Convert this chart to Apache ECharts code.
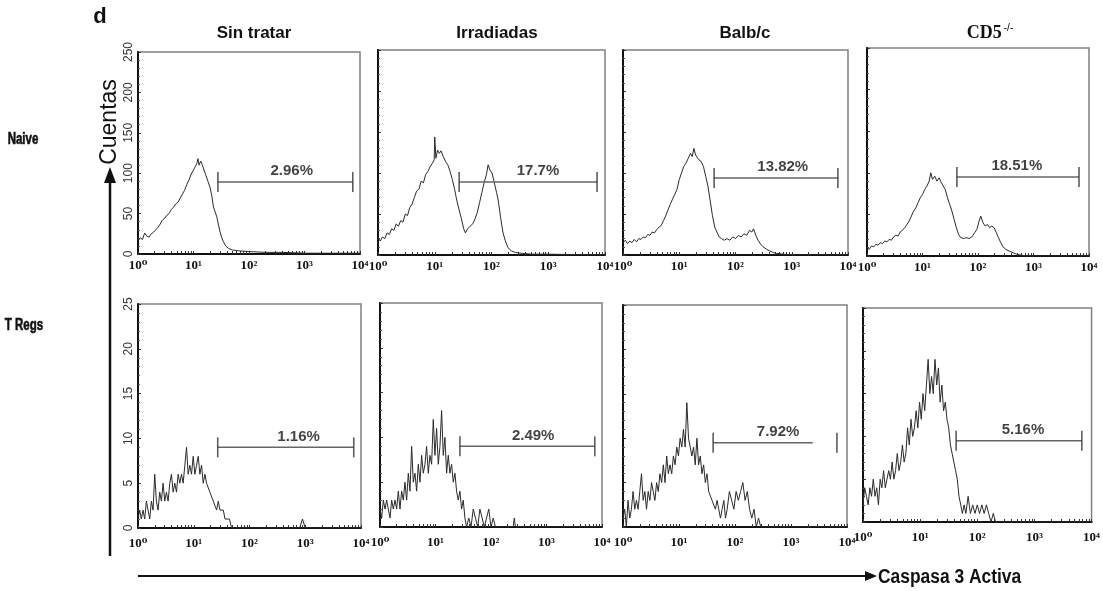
<!DOCTYPE html>
<html><head><meta charset="utf-8">
<script src="https://cdn.jsdelivr.net/npm/echarts@6/dist/echarts.min.js"></script>
<style>html,body{margin:0;padding:0;background:#fff}#c{width:1103px;height:591px}</style>
</head><body><div id="c"></div>
<script>
// ---------- labels ----------
const columnTitles = ['Sin tratar', 'Irradiadas', 'Balb/c', 'CD5'];
const rowTitles = ['Naive', 'T Regs'];
const xTickLabels = ['10⁰', '10¹', '10²', '10³', '10⁴'];
const xAxisTitle = 'Caspasa 3 Activa';
const yAxisTitle = 'Cuentas';

// ---------- histogram data: [log10 fluorescence, counts] ----------
const naiveSinTratar = [[0,16],[0.04,20],[0.08,18],[0.12,26],[0.16,22],[0.2,21],[0.24,25],[0.28,27],[0.32,30],[0.36,33],[0.4,37],[0.44,42],[0.48,44],[0.52,48],[0.56,50],[0.6,55],[0.64,58],[0.68,62],[0.72,64],[0.76,69],[0.8,74],[0.84,79],[0.88,86],[0.92,92],[0.96,99],[1.0,104],[1.03,108],[1.06,112],[1.08,118],[1.1,110],[1.13,115],[1.16,110],[1.19,104],[1.22,98],[1.26,90],[1.3,82],[1.33,72],[1.36,58],[1.39,52],[1.42,46],[1.45,36],[1.48,27],[1.51,20],[1.54,15],[1.58,10],[1.63,7],[1.7,5],[1.8,4],[2.0,3],[2.3,2],[2.6,2],[3.0,1],[3.5,1],[4,1]];
const naiveIrradiadas = [[0,21],[0.04,17],[0.08,22],[0.12,20],[0.16,27],[0.2,25],[0.24,32],[0.28,30],[0.32,38],[0.36,35],[0.4,42],[0.44,40],[0.48,50],[0.52,48],[0.56,58],[0.6,62],[0.64,70],[0.68,78],[0.72,80],[0.76,90],[0.8,88],[0.84,98],[0.88,102],[0.92,108],[0.96,112],[0.99,116],[1.0,144],[1.02,118],[1.05,128],[1.08,124],[1.11,127],[1.15,120],[1.19,114],[1.23,110],[1.27,102],[1.31,92],[1.35,80],[1.39,66],[1.43,55],[1.47,44],[1.51,32],[1.54,27],[1.58,32],[1.62,35],[1.67,38],[1.71,44],[1.75,52],[1.79,64],[1.83,76],[1.87,88],[1.91,98],[1.94,110],[1.97,104],[2.01,100],[2.05,88],[2.09,76],[2.12,66],[2.16,46],[2.2,28],[2.24,18],[2.29,9],[2.35,5],[2.42,3],[2.55,2],[2.7,1],[3.0,1],[4,0]];
const naiveBalbc = [[0,15],[0.04,18],[0.08,14],[0.12,17],[0.16,15],[0.2,19],[0.24,16],[0.28,20],[0.32,19],[0.36,22],[0.4,21],[0.44,25],[0.48,24],[0.52,28],[0.56,27],[0.6,31],[0.64,34],[0.68,36],[0.72,42],[0.76,48],[0.8,55],[0.84,62],[0.88,68],[0.92,74],[0.96,80],[1.0,92],[1.04,100],[1.08,108],[1.12,112],[1.16,118],[1.2,124],[1.23,120],[1.26,130],[1.29,122],[1.32,124],[1.35,116],[1.39,114],[1.43,108],[1.47,96],[1.51,84],[1.55,66],[1.59,48],[1.63,34],[1.67,28],[1.71,22],[1.75,20],[1.8,18],[1.85,20],[1.9,18],[1.95,22],[2.0,20],[2.05,24],[2.1,22],[2.15,26],[2.2,24],[2.25,30],[2.29,28],[2.32,32],[2.36,24],[2.4,18],[2.45,13],[2.49,10],[2.55,7],[2.61,5],[2.67,3],[2.73,2],[2.85,1],[3.0,0],[4,0]];
const naiveCD5 = [[0,10],[0.04,8],[0.08,12],[0.12,11],[0.16,14],[0.2,13],[0.24,16],[0.28,15],[0.32,18],[0.36,17],[0.4,20],[0.44,19],[0.48,23],[0.52,25],[0.56,24],[0.6,29],[0.64,31],[0.68,34],[0.72,38],[0.76,42],[0.8,48],[0.84,54],[0.88,58],[0.92,64],[0.96,70],[1.0,74],[1.04,80],[1.08,84],[1.12,90],[1.15,100],[1.18,92],[1.22,96],[1.26,90],[1.3,94],[1.34,88],[1.37,90],[1.41,80],[1.45,70],[1.49,62],[1.53,54],[1.57,44],[1.61,34],[1.65,26],[1.69,22],[1.74,21],[1.79,22],[1.84,21],[1.89,23],[1.94,28],[1.98,32],[2.02,42],[2.05,48],[2.09,40],[2.13,36],[2.17,38],[2.21,34],[2.25,36],[2.29,34],[2.33,28],[2.37,22],[2.41,16],[2.45,11],[2.5,8],[2.56,6],[2.63,4],[2.7,2],[2.78,1],[2.9,0],[4,0]];
const tregSinTratar = [[0,1],[0.03,2],[0.06,1],[0.09,2],[0.12,1],[0.15,3],[0.18,2],[0.21,1],[0.24,3],[0.27,2],[0.3,6],[0.33,3],[0.36,2],[0.39,4],[0.42,3],[0.45,5],[0.48,3],[0.51,4],[0.54,3],[0.57,5],[0.6,6],[0.63,4],[0.66,5],[0.69,4],[0.72,6],[0.75,5],[0.78,6],[0.81,5],[0.84,7],[0.87,9],[0.9,6],[0.93,7],[0.96,6],[0.99,8],[1.02,6],[1.05,7],[1.08,8],[1.11,6],[1.14,7],[1.17,5],[1.2,6],[1.23,5],[1.26,5],[1.29,4],[1.32,4],[1.35,3],[1.38,3],[1.41,2],[1.44,3],[1.47,2],[1.5,2],[1.53,2],[1.56,1],[1.6,1],[1.64,1],[1.68,0],[1.72,0],[2.9,0],[2.95,1],[3.0,0],[4,0]];
const tregIrradiadas = [[0,2],[0.03,1],[0.06,3],[0.09,2],[0.12,3],[0.15,2],[0.18,1],[0.21,3],[0.24,2],[0.27,3],[0.3,2],[0.33,4],[0.36,2],[0.39,4],[0.42,3],[0.45,5],[0.48,3],[0.51,6],[0.54,4],[0.57,9],[0.6,5],[0.63,6],[0.66,4],[0.69,7],[0.72,5],[0.75,8],[0.78,6],[0.81,7],[0.84,9],[0.87,6],[0.9,8],[0.93,7],[0.96,12],[0.99,8],[1.02,11],[1.05,7],[1.08,9],[1.11,13],[1.14,8],[1.17,10],[1.2,6],[1.23,8],[1.26,6],[1.29,7],[1.32,5],[1.35,6],[1.38,4],[1.41,3],[1.44,4],[1.47,2],[1.5,3],[1.53,1],[1.56,0],[1.6,1],[1.64,0],[1.68,2],[1.72,1],[1.76,0],[1.8,2],[1.84,1],[1.88,0],[1.92,1],[1.96,2],[2.0,0],[2.04,1],[2.08,0],[2.4,0],[2.42,1],[2.44,0],[4,0]];
const tregBalbc = [[0,1],[0.03,2],[0.06,0],[0.09,3],[0.12,1],[0.15,2],[0.18,4],[0.21,2],[0.24,3],[0.27,2],[0.3,4],[0.33,6],[0.36,3],[0.39,4],[0.42,2],[0.45,4],[0.48,3],[0.51,5],[0.54,4],[0.57,3],[0.6,5],[0.63,4],[0.66,6],[0.69,5],[0.72,7],[0.75,5],[0.78,8],[0.81,6],[0.84,7],[0.87,6],[0.9,8],[0.93,7],[0.96,9],[0.99,8],[1.02,10],[1.05,9],[1.08,11],[1.11,9],[1.14,14],[1.17,10],[1.2,10],[1.23,8],[1.26,9],[1.29,7],[1.32,10],[1.35,7],[1.38,8],[1.41,6],[1.44,7],[1.47,5],[1.5,6],[1.53,4],[1.56,4],[1.59,3],[1.62,3],[1.65,2],[1.68,3],[1.71,2],[1.74,1],[1.77,2],[1.8,3],[1.83,1],[1.86,2],[1.9,4],[1.94,3],[1.98,2],[2.02,4],[2.06,3],[2.1,4],[2.14,5],[2.18,3],[2.22,4],[2.26,2],[2.3,1],[2.34,2],[2.38,0],[2.42,1],[2.46,0],[4,0]];
const tregCD5 = [[0,2],[0.03,4],[0.06,3],[0.09,2],[0.12,4],[0.15,3],[0.18,5],[0.21,3],[0.24,4],[0.27,2],[0.3,5],[0.33,4],[0.36,6],[0.39,4],[0.42,5],[0.45,6],[0.48,5],[0.51,7],[0.54,5],[0.57,6],[0.6,8],[0.63,6],[0.66,7],[0.69,9],[0.72,7],[0.75,8],[0.78,11],[0.81,9],[0.84,12],[0.87,10],[0.9,11],[0.93,13],[0.96,11],[0.99,14],[1.02,12],[1.05,15],[1.08,13],[1.11,16],[1.14,19],[1.17,15],[1.2,17],[1.23,15],[1.26,19],[1.29,16],[1.32,18],[1.35,14],[1.38,16],[1.41,13],[1.44,14],[1.47,12],[1.5,11],[1.53,9],[1.56,8],[1.59,7],[1.62,6],[1.65,5],[1.68,3],[1.71,2],[1.74,1],[1.77,2],[1.8,1],[1.84,3],[1.88,1],[1.92,2],[1.96,1],[2.0,2],[2.04,1],[2.08,2],[2.12,1],[2.16,2],[2.2,1],[2.24,0],[2.28,1],[2.32,0],[4,0]];

// ---------- gates (log10 units / counts), panel order: Naive x4, T Regs x4 ----------
const gateStart   = [1.44, 1.43, 1.62, 1.62, 1.43, 1.44, 1.61, 1.63];
const gateEnd     = [3.87, 3.86, 3.82, 3.82, 3.87, 3.87, 3.82, 3.83];
const gateLineEnd = [3.87, 3.86, 3.82, 3.82, 3.87, 3.87, 3.39, 3.83];
const gateLevel   = [89, 89, 94, 95, 9.0, 9.0, 9.5, 9.5];
const gateLabelAt = [2.77, 2.82, 2.84, 2.70, 2.88, 2.76, 2.77, 2.80];
const gateLabels  = ['2.96%', '17.7%', '13.82%', '18.51%', '1.16%', '2.49%', '7.92%', '5.16%'];

// y scales per row
const yMaxByRow = [250, 25];
const yStepByRow = [50, 5];

const panelData = [naiveSinTratar, naiveIrradiadas, naiveBalbc, naiveCD5, tregSinTratar, tregIrradiadas, tregBalbc, tregCD5];

// ---------- layout ----------
const gridRects = [
  {left:138, top:52, width:222, height:202},
  {left:378, top:50, width:227, height:205},
  {left:623, top:50, width:225, height:205},
  {left:867, top:48, width:222, height:208},
  {left:138, top:304, width:223, height:224},
  {left:380, top:303, width:222, height:224},
  {left:623, top:305, width:224, height:222},
  {left:863, top:308, width:231, height:214}
];
const tickPositions = [];
for (let n = 0; n < 4; n++) { for (let k = 1; k < 10; k++) tickPositions.push(n + Math.log10(k)); }
tickPositions.push(4);

const SANS = "'Liberation Sans', Arial, sans-serif";
const SERIF = "'Liberation Serif', 'DejaVu Serif', serif";

const grid = [], xAxis = [], yAxis = [], series = [];
gridRects.forEach((g, i) => {
  const row = i < 4 ? 0 : 1, col = i % 4;
  grid.push(Object.assign({show:true, borderColor:'#808080', borderWidth:1.5, backgroundColor:'#fff', containLabel:false}, g));
  xAxis.push({
    gridIndex:i, type:'value', min:0, max:4, interval:1,
    axisLine:{show:true, onZero:false, lineStyle:{color:'#111', width:2}},
    axisTick:{show:true, inside:true, length:3, customValues:tickPositions, lineStyle:{color:'#333', width:1}},
    axisLabel:{formatter:v => xTickLabels[Math.round(v)], fontFamily:SERIF, fontWeight:'bold', fontSize:13, color:'#111', margin: row === 0 ? 5 : 9},
    splitLine:{show:false}
  });
  yAxis.push({
    gridIndex:i, type:'value', min:0, max:yMaxByRow[row], interval:yStepByRow[row],
    axisLine:{show:true, onZero:false, lineStyle:{color:'#111', width:2}},
    axisTick:{show:true, inside:true, length:3, lineStyle:{color:'#333'}},
    minorTick:{show:true, splitNumber:5, length:2, lineStyle:{color:'#555'}},
    axisLabel:{show: col === 0, rotate:90, fontFamily:SANS, fontSize:12, color:'#333', margin:3},
    splitLine:{show:false}
  });
  series.push({
    type:'line', xAxisIndex:i, yAxisIndex:i, data:panelData[i], showSymbol:false, symbol:'none',
    lineStyle:{color:'#2a2a2a', width:1}, z:3
  });
  series.push({
    type:'line', xAxisIndex:i, yAxisIndex:i, symbol:'none',
    data:[[gateStart[i], gateLevel[i]], [gateLineEnd[i], gateLevel[i]]],
    lineStyle:{color:'#666', width:1.5}, z:4
  });
  series.push({
    type:'scatter', xAxisIndex:i, yAxisIndex:i, symbol:'rect', symbolSize:[1.6, 20],
    data:[[gateStart[i], gateLevel[i]], [gateEnd[i], gateLevel[i]]],
    itemStyle:{color:'#333'}, z:4
  });
  series.push({
    type:'scatter', xAxisIndex:i, yAxisIndex:i, symbolSize:1,
    data:[[gateLabelAt[i], gateLevel[i]]],
    itemStyle:{color:'rgba(0,0,0,0)'},
    label:{show:true, position:'top', distance:3, formatter:gateLabels[i], fontFamily:SANS, fontWeight:'bold', fontSize:15, color:'#111'},
    z:5
  });
});

const titleX = [254, 497, 745, 990];
const rowLabelStyle = {fontFamily:SANS, fontWeight:'bold', fontSize:16, fill:'#111', stroke:'#111', lineWidth:0.6, align:'center', verticalAlign:'middle'};
const graphic = [
  {type:'text', x:100, y:17, style:{text:'d', fontFamily:SANS, fontWeight:'bold', fontSize:22, fill:'#111', align:'center', verticalAlign:'middle'}},
  {type:'text', x:23, y:140, scaleX:0.72, style:Object.assign({text:rowTitles[0]}, rowLabelStyle)},
  {type:'text', x:24, y:326, scaleX:0.72, style:Object.assign({text:rowTitles[1]}, rowLabelStyle)},
  {type:'text', x:110, y:122, rotation:Math.PI/2, style:{text:yAxisTitle, fontFamily:SANS, fontSize:23, fill:'#111', align:'center', verticalAlign:'middle'}},
  {type:'line', shape:{x1:110, y1:556, x2:110, y2:180}, style:{stroke:'#111', lineWidth:2.5}},
  {type:'polygon', shape:{points:[[110,167],[104,183],[116,183]]}, style:{fill:'#111'}},
  {type:'line', shape:{x1:138, y1:576, x2:866, y2:576}, style:{stroke:'#111', lineWidth:2}},
  {type:'polygon', shape:{points:[[877,576],[865,571],[865,581]]}, style:{fill:'#111'}},
  {type:'text', x:878, y:577, scaleX:0.87, style:{text:xAxisTitle, fontFamily:SANS, fontWeight:'bold', fontSize:20, fill:'#111', align:'left', verticalAlign:'middle'}}
];
columnTitles.forEach((t, c) => {
  if (c === 3) {
    graphic.push({type:'text', x:titleX[c], y:33, style:{
      text:'{a|' + t + '}{b|-/-}', align:'center', verticalAlign:'middle',
      rich:{a:{fontFamily:SERIF, fontWeight:'bold', fontSize:18, fill:'#111', color:'#111'},
            b:{fontFamily:SANS, fontSize:10, color:'#111', padding:[0,0,10,2]}}
    }});
  } else {
    graphic.push({type:'text', x:titleX[c], y:33, style:{text:t, fontFamily:SANS, fontWeight:'bold', fontSize:17, fill:'#111', align:'center', verticalAlign:'middle'}});
  }
});

const chart = echarts.init(document.getElementById('c'), null, {renderer:'canvas'});
chart.setOption({animation:false, backgroundColor:'#fff', grid, xAxis, yAxis, series, graphic});
</script>
</body></html>
